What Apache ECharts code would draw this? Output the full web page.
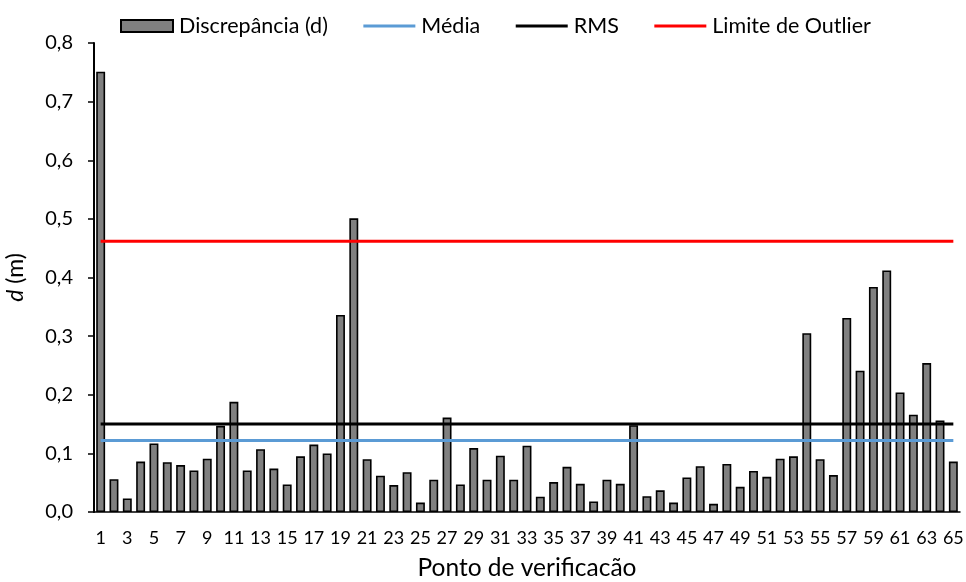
<!DOCTYPE html>
<html>
<head>
<meta charset="utf-8">
<script src="https://cdn.jsdelivr.net/npm/echarts@6/dist/echarts.min.js"></script>
<style>html,body{margin:0;padding:0;background:#fff}#c{width:966px;height:582px}</style>
</head>
<body>
<div id="c"></div>
<script>
const categories = Array.from({length: 65}, (_, i) => String(i + 1));
const discrepancy = [
  0.751, 0.056, 0.023, 0.086, 0.117, 0.085, 0.080, 0.071, 0.091, 0.147,
  0.188, 0.071, 0.107, 0.074, 0.047, 0.095, 0.115, 0.100, 0.336, 0.501,
  0.090, 0.062, 0.046, 0.068, 0.016, 0.055, 0.161, 0.047, 0.109, 0.055,
  0.096, 0.055, 0.113, 0.026, 0.051, 0.077, 0.048, 0.018, 0.055, 0.048,
  0.148, 0.027, 0.037, 0.016, 0.059, 0.078, 0.014, 0.082, 0.043, 0.070,
  0.060, 0.091, 0.095, 0.305, 0.090, 0.063, 0.331, 0.241, 0.384, 0.412,
  0.204, 0.166, 0.254, 0.156, 0.086
];
const meanValue = 0.122;
const rmsValue = 0.150;
const outlierLimit = 0.462;
const yTicks = [0, 0.1, 0.2, 0.3, 0.4, 0.5, 0.6, 0.7, 0.8];

const FONT = 'Lato, "Open Sans", sans-serif';
const chart = echarts.init(document.getElementById('c'));
const flat = v => [[categories[0], v], [categories[categories.length - 1], v]];
const lineLegend = (name, color) => ({name, itemStyle: {opacity: 0}, lineStyle: {color, width: 3}});
chart.setOption({
  animation: false,
  textStyle: {fontFamily: FONT, color: '#000'},
  legend: {
    left: 115, top: 10,
    itemWidth: 52, itemHeight: 12, itemGap: 34,
    textStyle: {fontFamily: FONT, fontSize: 21.5, color: '#000', padding: [0, 0, 0, 1]},
    data: [
      {name: 'Discrepância (d)', icon: 'rect'},
      lineLegend('Média', '#5B9BD5'), lineLegend('RMS', '#000'), lineLegend('Limite de Outlier', '#FF0000')
    ]
  },
  grid: {left: 94, right: 6, top: 43, bottom: 70, containLabel: false, outerBoundsMode: 'none'},
  xAxis: {
    type: 'category', data: categories,
    name: 'Ponto de verificacão', nameLocation: 'middle', nameGap: 44,
    nameTextStyle: {fontFamily: FONT, fontSize: 24.5, color: '#000'},
    axisLine: {lineStyle: {color: '#000', width: 1.5}},
    axisTick: {show: false},
    axisLabel: {interval: 1, fontFamily: FONT, fontSize: 18, color: '#000', margin: 17}
  },
  yAxis: {
    type: 'value', min: yTicks[0], max: yTicks[yTicks.length - 1], interval: 0.1,
    name: '{i|d} (m)', nameLocation: 'middle', nameGap: 67,
    nameTextStyle: {fontFamily: FONT, fontSize: 23, color: '#000', rich: {i: {fontStyle: 'italic', fontFamily: FONT, fontSize: 23}}},
    axisLine: {show: true, lineStyle: {color: '#000', width: 2}},
    axisTick: {show: true, length: 6, lineStyle: {color: '#000', width: 1.5}},
    splitLine: {show: false},
    axisLabel: {fontFamily: FONT, fontSize: 20, color: '#000', margin: 21,
      formatter: v => v.toFixed(1).replace('.', ',')}
  },
  series: [
    {name: 'Discrepância (d)', type: 'bar', data: discrepancy, barCategoryGap: '33%',
     itemStyle: {color: '#808080', borderColor: '#000', borderWidth: 1.6}},
    {name: 'Média', type: 'line', data: flat(meanValue), symbol: 'none',
     lineStyle: {color: '#5B9BD5', width: 3}, itemStyle: {color: '#5B9BD5'}},
    {name: 'RMS', type: 'line', data: flat(rmsValue), symbol: 'none',
     lineStyle: {color: '#000', width: 3}, itemStyle: {color: '#000'}},
    {name: 'Limite de Outlier', type: 'line', data: flat(outlierLimit), symbol: 'none',
     lineStyle: {color: '#FF0000', width: 3}, itemStyle: {color: '#FF0000'}}
  ]
});
</script>
</body>
</html>
